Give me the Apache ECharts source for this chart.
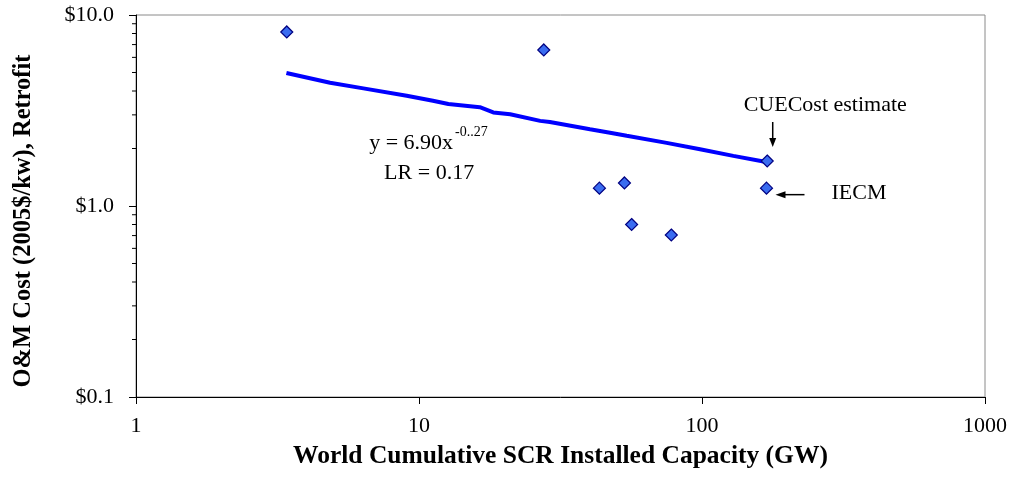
<!DOCTYPE html>
<html>
<head>
<meta charset="utf-8">
<script src="https://cdn.jsdelivr.net/npm/echarts@6/dist/echarts.min.js"></script>
<style>
  html, body { margin: 0; padding: 0; background: #fff; }
  #chart { width: 1012px; height: 480px; }
</style>
</head>
<body>
<div id="chart"></div>
<script>
// Observed O&M cost points (GW installed, $/kW)
const pointX = [3.41, 27.6, 43.4, 53.2, 56.4, 77.9, 170, 169];
const pointY = [8.15, 6.56, 1.24, 1.32, 0.80, 0.705, 1.72, 1.24];

// Fitted learning curve, sampled along cumulative capacity
const fitX = [3.4, 4.85, 6.36, 9.05, 11.2, 12.7, 16.4, 18.3, 21.0, 26.8, 29.0, 40.2, 47.3, 54.2, 75.0, 98.4, 129, 165, 170];
const fitY = [4.97, 4.42, 4.13, 3.78, 3.56, 3.42, 3.29, 3.09, 3.02, 2.79, 2.75, 2.52, 2.42, 2.33, 2.14, 1.98, 1.83, 1.71, 1.70];

// Axis extents and minor tick positions on the cost axis
const xTicks = [1, 10, 100, 1000];
const yRange = [0.1, 10];
const yMinorTicks = [0.2, 0.3, 0.4, 0.5, 0.6, 0.7, 0.8, 0.9, 2, 3, 4, 5, 6, 7, 8, 9];

const FONT = 'Liberation Serif';
const chart = echarts.init(document.getElementById('chart'));

chart.setOption({
  animation: false,
  backgroundColor: '#fff',
  grid: {
    left: 136, right: 27, top: 15, bottom: 83,
    show: true, borderColor: '#8a8a8a', borderWidth: 1
  },
  xAxis: {
    type: 'log', logBase: 10, min: xTicks[0], max: xTicks[xTicks.length - 1],
    name: 'World Cumulative SCR Installed Capacity (GW)',
    nameLocation: 'middle', nameGap: 46,
    nameTextStyle: { fontFamily: FONT, fontWeight: 'bold', fontSize: 25.5, color: '#000' },
    axisLine: { lineStyle: { color: '#000', width: 1 } },
    axisTick: { show: true, inside: false, length: 7, lineStyle: { color: '#000' } },
    axisLabel: { fontFamily: FONT, fontSize: 22, color: '#000', margin: 18, formatter: v => String(v) },
    splitLine: { show: false }
  },
  yAxis: {
    type: 'log', logBase: 10, min: yRange[0], max: yRange[1],
    axisLine: { show: true, lineStyle: { color: '#000', width: 1 } },
    axisTick: { show: true, inside: false, length: 7, lineStyle: { color: '#000' } },
    axisLabel: {
      fontFamily: FONT, fontSize: 22, color: '#000', margin: 22,
      formatter: v => '$' + Number(v).toFixed(1)
    },
    splitLine: { show: false }
  },
  series: [
    {
      // minor log ticks on the cost axis
      type: 'custom',
      silent: true,
      data: yMinorTicks.map(v => [1, v]),
      renderItem: (params, api) => {
        const p = api.coord([1, api.value(1)]);
        return {
          type: 'line',
          shape: { x1: p[0] - 4, y1: p[1], x2: p[0], y2: p[1] },
          style: { stroke: '#000', lineWidth: 1 }
        };
      },
      z: 5
    },
    {
      name: 'fit',
      type: 'line',
      data: fitX.map((x, i) => [x, fitY[i]]),
      showSymbol: false,
      symbol: 'none',
      lineStyle: { color: '#0000ff', width: 4 },
      z: 3
    },
    {
      name: 'observed',
      type: 'scatter',
      data: pointX.map((x, i) => [x, pointY[i]]),
      symbol: 'diamond',
      symbolSize: [12, 12],
      itemStyle: { color: '#3a6cf0', borderColor: '#000080', borderWidth: 1.2, opacity: 1 },
      z: 4
    }
  ]
});

// Annotations anchored to data coordinates
const cue = chart.convertToPixel({ gridIndex: 0 }, [pointX[6], pointY[6]]);
const iecm = chart.convertToPixel({ gridIndex: 0 }, [pointX[7], pointY[7]]);
const eqAt = chart.convertToPixel({ gridIndex: 0 }, [13.2, 2.14]);
const gridRect = chart.getModel().getComponent('grid').coordinateSystem.getRect();

const txt = (x, y, text, size, align, extra) => ({
  type: 'text', x, y,
  style: Object.assign({ text, fontFamily: FONT, fontSize: size, fill: '#000', align: align || 'center', verticalAlign: 'middle' }, extra || {})
});

chart.setOption({
  graphic: [
    // cost axis title
    Object.assign(
      txt(23.5, gridRect.y + gridRect.height / 2 + 15, 'O&M Cost (2005$/kw), Retrofit', 24.5, 'center', { fontWeight: 'bold' }),
      { rotation: Math.PI / 2 }
    ),
    txt(cue[0] + 58, cue[1] - 56, 'CUECost estimate', 22),
    { type: 'line', shape: { x1: cue[0] + 5.5, y1: cue[1] - 39, x2: cue[0] + 5.5, y2: cue[1] - 20 }, style: { stroke: '#000', lineWidth: 1.5 } },
    { type: 'polygon', shape: { points: [[cue[0] + 2, cue[1] - 23], [cue[0] + 9, cue[1] - 23], [cue[0] + 5.5, cue[1] - 14]] }, style: { fill: '#000' } },
    { type: 'line', shape: { x1: iecm[0] + 38, y1: iecm[1] + 6.5, x2: iecm[0] + 16, y2: iecm[1] + 6.5 }, style: { stroke: '#000', lineWidth: 1.5 } },
    { type: 'polygon', shape: { points: [[iecm[0] + 19, iecm[1] + 3], [iecm[0] + 19, iecm[1] + 10], [iecm[0] + 9, iecm[1] + 6.5]] }, style: { fill: '#000' } },
    txt(iecm[0] + 65, iecm[1] + 5, 'IECM', 22, 'left'),
    txt(eqAt[0], eqAt[1], 'y = 6.90x', 22, 'right'),
    txt(eqAt[0] + 2, eqAt[1] - 11, '-0..27', 14, 'left'),
    txt(eqAt[0] - 24, eqAt[1] + 30, 'LR = 0.17', 22)
  ]
});
</script>
</body>
</html>
